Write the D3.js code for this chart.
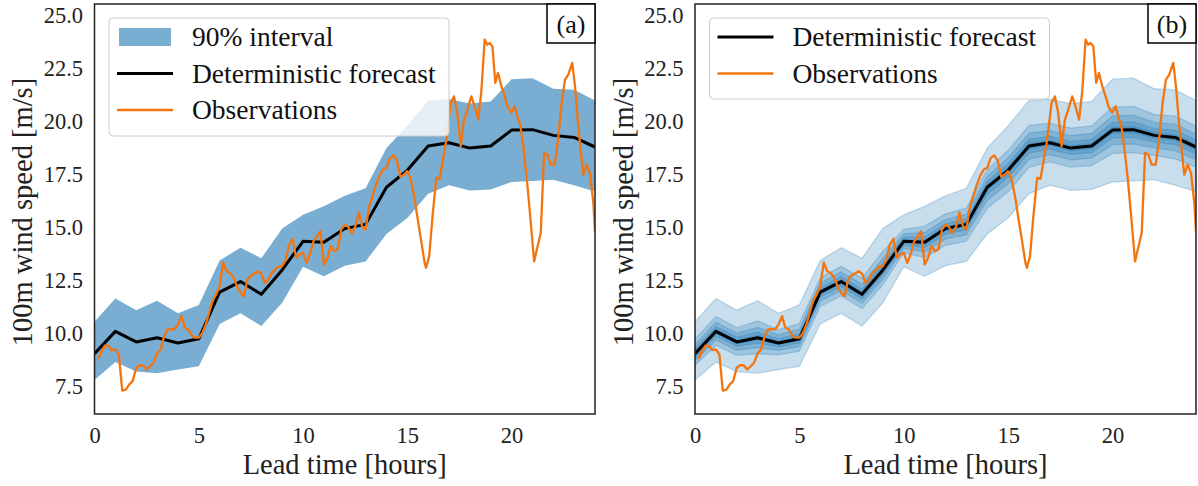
<!DOCTYPE html>
<html><head><meta charset="utf-8">
<script src="https://cdn.jsdelivr.net/npm/d3@7"></script>
<style>body{margin:0;background:#fff} svg{display:block}</style>
</head><body><svg id="c" width="1198" height="486"></svg>
<script>
// ---- data ----
const leadHours = [0,1,2,3,4,5,6,7,8,9,10,11,12,13,14,15,16,17,18,19,20,21,22,23,24];
const forecast  = [9.05,10.1,9.6,9.8,9.55,9.75,11.95,12.45,11.85,13.0,14.35,14.3,14.95,15.15,16.9,17.7,18.85,19.0,18.75,18.85,19.6,19.62,19.35,19.25,18.8];
const upper90   = [10.55,11.65,11.1,11.55,10.95,11.35,13.45,14.05,13.55,14.95,15.6,16.0,16.5,16.85,18.75,19.8,21.0,21.05,20.85,20.95,22.0,22.05,21.55,21.5,21.0];
const lower90   = [7.8,8.65,8.2,8.12,8.3,8.45,10.45,10.95,10.35,11.45,13.15,12.7,13.2,13.4,14.7,15.45,16.6,17.0,16.75,16.8,17.15,17.2,17.25,17.0,16.7];
// relative half-widths of the inner bands of panel (b)
const innerBandWidths = [0.45,0.28,0.15,0.06];
const obsTime  = [0.17,0.33,0.5,0.67,0.83,1.0,1.17,1.33,1.5,1.67,1.83,2.0,2.17,2.33,2.5,2.67,2.83,3.0,3.17,3.33,3.5,3.67,3.83,4.0,4.17,4.33,4.5,4.67,4.83,5.0,5.17,5.33,5.5,5.67,5.83,6.0,6.17,6.33,6.5,6.67,6.83,7.0,7.17,7.33,7.5,7.67,7.83,8.0,8.17,8.33,8.5,8.67,8.83,9.0,9.17,9.33,9.5,9.67,9.83,10.0,10.17,10.33,10.5,10.67,10.83,11.0,11.17,11.33,11.5,11.67,11.83,12.0,12.17,12.33,12.5,12.67,12.83,13.0,13.17,13.33,13.5,13.67,13.83,14.0,14.17,14.33,14.5,14.67,14.83,15.0,15.17,15.33,15.5,15.67,15.83,15.9,16.05,16.21,16.39,16.55,16.71,16.87,17.08,17.24,17.4,17.56,17.72,17.88,18.07,18.23,18.4,18.55,18.71,18.84,18.95,19.08,19.22,19.35,19.51,19.67,19.83,19.99,20.15,20.32,20.4,20.56,20.72,20.88,21.08,21.25,21.4,21.56,21.72,21.88,22.07,22.23,22.4,22.56,22.72,22.91,23.04,23.2,23.33,23.44,23.6,23.76,23.92,24.0];
const obsSpeed = [8.81,9.12,9.43,9.43,9.21,9.25,9.0,7.3,7.35,7.6,7.75,8.38,8.5,8.5,8.3,8.45,8.62,9.06,9.25,9.84,10.19,10.2,10.2,10.42,10.82,10.27,10.19,9.9,9.8,9.8,10.03,10.42,10.98,11.6,11.84,12.23,13.35,12.94,12.86,12.63,12.23,11.92,11.76,12.55,12.74,12.83,12.94,12.83,12.39,12.55,12.85,13.02,13.17,13.17,13.49,14.2,14.47,13.57,13.73,13.81,13.33,13.73,14.35,14.59,14.83,13.25,13.57,14.12,13.88,13.99,14.9,15.14,15.03,14.72,15.03,15.71,15.06,14.9,16.0,16.48,17.03,17.45,17.74,17.82,18.29,18.4,18.17,17.39,17.5,17.66,17.26,16.48,15.38,14.35,13.33,13.1,13.65,15.54,17.34,17.3,18.2,19.15,20.88,21.19,20.41,18.83,20.09,20.57,21.19,20.72,20.09,21.43,23.87,23.63,23.71,23.55,21.83,22.3,21.67,21.19,20.65,20.44,20.72,20.09,19.94,18.83,17.42,15.69,13.4,14.12,14.75,18.52,18.44,17.97,17.97,19.15,20.88,21.98,22.22,22.77,21.67,19.78,18.52,17.5,17.97,17.58,16.17,14.8];
const xTicks = [0,5,10,15,20];
const yTicks = [7.5,10,12.5,15,17.5,20,22.5,25];
const legendA = ["90% interval","Deterministic forecast","Observations"];
const legendB = ["Deterministic forecast","Observations"];

// ---- drawing ----
const svg = d3.select("#c");
const FONT = "'Liberation Serif','Times New Roman',serif";
const BLUE = "#1f77b4", ORANGE = "#f27510", EDGE = "#222";
const TOP = 4, BOTTOM = 414;

function panel(left, right, label, mode) {
  const x = d3.scaleLinear().domain([0,24]).range([left,right]);
  const y = d3.scaleLinear().domain([6.2,25.55]).range([BOTTOM,TOP]);
  const g = svg.append("g");
  const clipId = "clip" + mode;
  svg.append("clipPath").attr("id",clipId).append("rect")
    .attr("x",left).attr("y",TOP).attr("width",right-left).attr("height",BOTTOM-TOP);
  const plot = g.append("g").attr("clip-path",`url(#${clipId})`);
  const area = (lo,hi) => d3.area().x((d,i)=>x(leadHours[i])).y0((d,i)=>y(lo[i])).y1((d,i)=>y(hi[i]));

  if (mode === "a") {
    plot.append("path").datum(forecast).attr("d", area(lower90, upper90))
      .attr("fill", BLUE).attr("fill-opacity", 0.6);
  } else {
    const bands = [{lo:lower90, hi:upper90}];
    innerBandWidths.forEach(w => {
      bands.push({
        lo: forecast.map((f,i)=> f - w*(f-lower90[i])),
        hi: forecast.map((f,i)=> f + w*(upper90[i]-f))
      });
    });
    bands.forEach(b => plot.append("path").datum(forecast).attr("d", area(b.lo,b.hi))
      .attr("fill", BLUE).attr("fill-opacity", 0.24)
      .attr("stroke", BLUE).attr("stroke-opacity", 0.24).attr("stroke-width", 1.3));
  }
  plot.append("path").datum(forecast)
    .attr("d", d3.line().x((d,i)=>x(leadHours[i])).y(d=>y(d)))
    .attr("fill","none").attr("stroke","#000").attr("stroke-width",3).attr("stroke-linejoin","round");
  plot.append("path").datum(obsSpeed)
    .attr("d", d3.line().x((d,i)=>x(obsTime[i])).y(d=>y(d)))
    .attr("fill","none").attr("stroke",ORANGE).attr("stroke-width",2.3).attr("stroke-linejoin","round");

  // axes
  const xa = g.append("g").attr("transform",`translate(0,${BOTTOM})`)
    .call(d3.axisBottom(x).tickValues(xTicks).tickSize(0).tickPadding(13).tickFormat(d3.format("d")));
  const ya = g.append("g").attr("transform",`translate(${left},0)`)
    .call(d3.axisLeft(y).tickValues(yTicks).tickSize(0).tickPadding(11.5).tickFormat(d3.format(".1f")));
  [xa,ya].forEach(a => {
    a.select(".domain").remove();
    a.selectAll("text").attr("font-family",FONT).attr("font-size","22.5px").attr("fill",EDGE);
  });

  // frame
  g.append("rect").attr("x",left).attr("y",TOP).attr("width",right-left).attr("height",BOTTOM-TOP)
    .attr("fill","none").attr("stroke",EDGE).attr("stroke-width",1.5);

  // axis labels
  g.append("text").attr("x",(left+right)/2).attr("y",474).attr("text-anchor","middle")
    .attr("font-family",FONT).attr("font-size","28.5px").attr("fill",EDGE).text("Lead time [hours]");
  g.append("text").attr("transform",`translate(${left-62.5},212) rotate(-90)`).attr("text-anchor","middle")
    .attr("font-family",FONT).attr("font-size","28.5px").attr("fill",EDGE).text("100m wind speed [m/s]");

  // legend
  const items = mode === "a" ? legendA : legendB;
  const lx = left + 14.5, ly = 18, lw = 340, lh = mode === "a" ? 118 : 81;
  const lg = g.append("g");
  lg.append("rect").attr("x",lx).attr("y",ly).attr("width",lw).attr("height",lh).attr("rx",4)
    .attr("fill","#fff").attr("fill-opacity",0.8).attr("stroke","#cccccc").attr("stroke-width",1);
  items.forEach((name,i) => {
    const cy = 37 + i*36.5;
    if (name === "90% interval") {
      lg.append("rect").attr("x",lx+10).attr("y",cy-9).attr("width",52).attr("height",18)
        .attr("fill",BLUE).attr("fill-opacity",0.6);
    } else {
      lg.append("line").attr("x1",lx+8).attr("x2",lx+64).attr("y1",cy).attr("y2",cy)
        .attr("stroke", name === "Observations" ? ORANGE : "#000")
        .attr("stroke-width", name === "Observations" ? 2.3 : 3);
    }
    lg.append("text").attr("x",lx+83).attr("y",cy).attr("dy","0.33em")
      .attr("font-family",FONT).attr("font-size","27.5px").attr("fill","#111").text(name);
  });

  // panel label
  g.append("rect").attr("x",right-48).attr("y",TOP).attr("width",48).attr("height",39)
    .attr("fill","#fff").attr("stroke","#000").attr("stroke-width",1.5);
  g.append("text").attr("x",right-24).attr("y",TOP+19.5).attr("dy","0.35em").attr("text-anchor","middle")
    .attr("font-family",FONT).attr("font-size","26px").attr("fill","#111").text(label);
}

panel(94.5, 595, "(a)", "a");
panel(695, 1196, "(b)", "b");
</script></body></html>
